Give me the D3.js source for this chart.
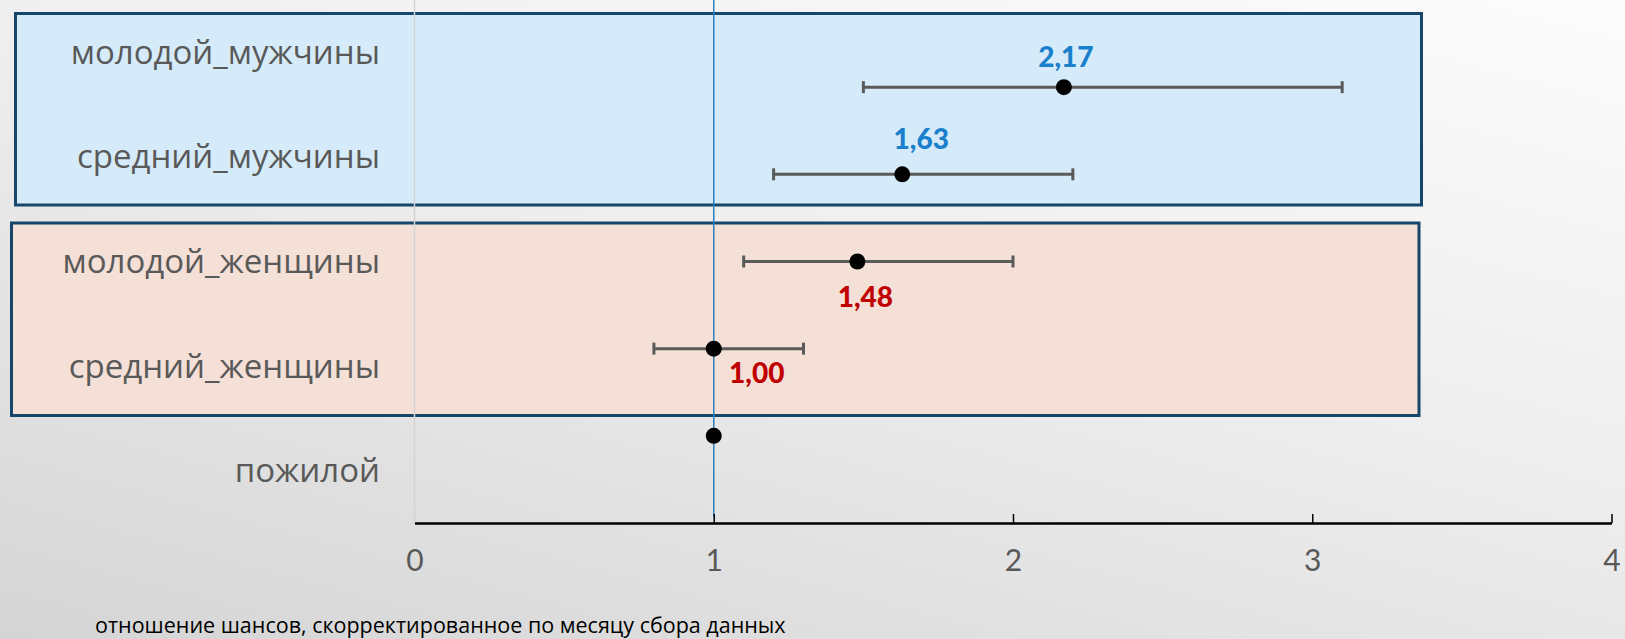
<!DOCTYPE html>
<html>
<head>
<meta charset="utf-8">
<script src="https://cdn.jsdelivr.net/npm/d3@7"></script>
<style>
  html, body { margin: 0; padding: 0; }
  body {
    width: 1625px; height: 639px; overflow: hidden;
    background: linear-gradient(195deg, #fcfcfc 0%, #eeeeee 45%, #d5d5d5 100%);
  }
  svg { display: block; }
</style>
</head>
<body>
<svg id="chart" width="1625" height="639"></svg>
<script>
// data
var categories = ["молодой_мужчины", "средний_мужчины", "молодой_женщины", "средний_женщины", "пожилой"]
var rowY = [5, 4, 3, 2, 1]
var oddsRatio = [2.17, 1.63, 1.48, 1.00, 1.00]
var ciLow = [1.5, 1.2, 1.1, 0.8, null]
var ciHigh = [3.1, 2.2, 2.0, 1.3, null]
var valueLabels = ["2,17", "1,63", "1,48", "1,00", null]
var xTicks = [0, 1, 2, 3, 4]
var axisTitle = "отношение шансов, скорректированное по месяцу сбора данных"

// label placement / colours (styling, not data)
var labelOffsets = [[2, -30], [19, -35], [8, 36], [43, 25], [0, 0]]
var labelColors = ["#1a80cc", "#1a80cc", "#c00000", "#c00000", "#c00000"]

var svg = d3.select("#chart")

var scaleX = d3.scaleLinear().domain([0, 4]).range([414.5, 1611.5])
var scaleY = d3.scaleLinear().domain([0, 6]).range([523, 0])
var scaleLabel = d3.scaleBand().domain(categories).range([0, 523])

// group boxes
svg.append("rect")
    .attr("x", 15.5).attr("y", 13.5).attr("width", 1406).attr("height", 191.5)
    .attr("fill", "#d6ebfa").attr("stroke", "#17466b").attr("stroke-width", 3)
svg.append("rect")
    .attr("x", 11.5).attr("y", 223).attr("width", 1407.5).attr("height", 192.5)
    .attr("fill", "#f4e0d6").attr("stroke", "#17466b").attr("stroke-width", 3)

// y axis (gray) and reference line at 1
svg.append("line")
    .attr("x1", scaleX(0)).attr("x2", scaleX(0))
    .attr("y1", 0).attr("y2", scaleY(0))
    .attr("stroke", "#d4d4d4").attr("stroke-width", 1.5)
svg.append("line")
    .attr("x1", scaleX(1)).attr("x2", scaleX(1))
    .attr("y1", 0).attr("y2", scaleY(0) - 6)
    .attr("stroke", "#2a7fc0").attr("stroke-width", 1.5)

// x axis
var axisX = d3.axisBottom(scaleX).tickValues(xTicks).tickSizeInner(-9).tickSizeOuter(0).tickFormat(d3.format("d"))
var gx = svg.append("g").attr("transform", "translate(0," + scaleY(0) + ")").call(axisX)
gx.select(".domain").attr("stroke", "#000").attr("stroke-width", 2.5)
gx.selectAll(".tick line").attr("stroke", "#000").attr("stroke-width", 1.5)
gx.selectAll(".tick").filter(d => d === 0).select("line").remove()
gx.selectAll(".tick text")
    .attr("y", 37).attr("dy", "0.35em")
    .attr("fill", "#595959")
    .style("font-family", "Lato, 'DejaVu Sans', sans-serif")
    .style("font-size", "30px")

// category labels
svg.selectAll(".cat")
    .data(categories).enter()
    .append("text")
    .attr("class", "cat")
    .attr("x", 380)
    .attr("y", d => scaleLabel(d) + scaleLabel.bandwidth() / 2)
    .attr("dy", "0.35em")
    .attr("text-anchor", "end")
    .attr("fill", "#595959")
    .style("font-family", "'Open Sans', sans-serif")
    .style("font-size", "33px")
    .text(d => d)

var rows = categories.map((c, i) => ({
    cat: c, y: rowY[i], v: oddsRatio[i], lo: ciLow[i], hi: ciHigh[i], label: valueLabels[i], i: i
}))
var withCI = rows.filter(r => r.lo != null)

// error bars
svg.selectAll(".ci")
    .data(withCI).enter()
    .append("line")
    .attr("x1", r => scaleX(r.lo)).attr("x2", r => scaleX(r.hi))
    .attr("y1", r => scaleY(r.y)).attr("y2", r => scaleY(r.y))
    .attr("stroke", "#5a5a5a").attr("stroke-width", 3)
svg.selectAll(".capLo")
    .data(withCI).enter()
    .append("line")
    .attr("x1", r => scaleX(r.lo)).attr("x2", r => scaleX(r.lo))
    .attr("y1", r => scaleY(r.y) - 6).attr("y2", r => scaleY(r.y) + 6)
    .attr("stroke", "#5a5a5a").attr("stroke-width", 3)
svg.selectAll(".capHi")
    .data(withCI).enter()
    .append("line")
    .attr("x1", r => scaleX(r.hi)).attr("x2", r => scaleX(r.hi))
    .attr("y1", r => scaleY(r.y) - 6).attr("y2", r => scaleY(r.y) + 6)
    .attr("stroke", "#5a5a5a").attr("stroke-width", 3)

// points
svg.selectAll(".pt")
    .data(rows).enter()
    .append("circle")
    .attr("cx", r => scaleX(r.v)).attr("cy", r => scaleY(r.y))
    .attr("r", 8)
    .attr("fill", "#000")

// value labels
svg.selectAll(".val")
    .data(rows.filter(r => r.label)).enter()
    .append("text")
    .attr("x", r => scaleX(r.v) + labelOffsets[r.i][0])
    .attr("y", r => scaleY(r.y) + labelOffsets[r.i][1])
    .attr("dy", "0.35em")
    .attr("text-anchor", "middle")
    .attr("fill", r => labelColors[r.i])
    .style("font-family", "Lato, 'DejaVu Sans', sans-serif")
    .style("font-weight", "900")
    .style("font-size", "28px")
    .text(r => r.label)

// axis title
svg.append("text")
    .attr("x", 95).attr("y", 625)
    .attr("dy", "0.35em")
    .attr("fill", "#000")
    .style("font-family", "'Open Sans', sans-serif")
    .style("font-size", "21.5px")
    .text(axisTitle)
</script>
</body>
</html>
